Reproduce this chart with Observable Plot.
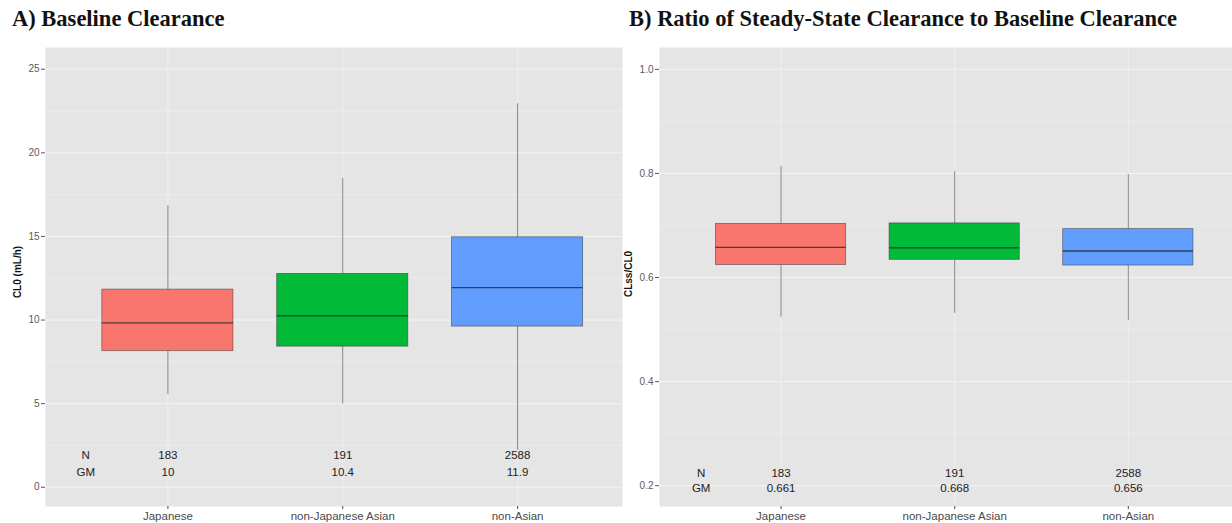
<!DOCTYPE html>
<html>
<head>
<meta charset="utf-8">
<script src="https://cdn.jsdelivr.net/npm/d3@7"></script>
<script src="https://cdn.jsdelivr.net/npm/@observablehq/plot@0.6"></script>
<style>
  html, body { margin: 0; padding: 0; background: #fff; }
  #wrap { position: relative; width: 1232px; height: 523px; overflow: hidden; font-family: "Liberation Sans", Arial, sans-serif; }
  .title { position: absolute; top: 8px; font-family: "Liberation Serif", "Times New Roman", serif; font-weight: bold; font-size: 22.5px; line-height: 1; color: #111; white-space: nowrap; }
  .ytitle { position: absolute; font-weight: bold; font-size: 10px; line-height: 1; color: #111; white-space: nowrap; transform: translate(-50%, -50%) rotate(-90deg); }
  .panel { position: absolute; top: 40px; }
</style>
</head>
<body>
<div id="wrap">
  <div class="title" style="left:12px">A) Baseline Clearance</div>
  <div class="title" style="left:629px">B) Ratio of Steady-State Clearance to Baseline Clearance</div>
  <div class="panel" id="pa" style="left:0px"></div>
  <div class="panel" id="pb" style="left:600px"></div>
  <div class="ytitle" style="left:18px;top:272px">CL0 (mL/h)</div>
  <div class="ytitle" style="left:629px;top:274px">CLss/CL0</div>
</div>
<script>
// Population groups and their counts
const groups = ["Japanese", "non-Japanese Asian", "non-Asian"];
const groupN = [183, 191, 2588];
const groupColors = ["#F8766D", "#00BA38", "#619CFF"];

// A) Baseline clearance CL0 (mL/h): whisker ends, quartiles, median, geometric mean
const cl0Low = [5.54, 4.99, 2.2];
const cl0Q1 = [8.14, 8.41, 9.61];
const cl0Median = [9.83, 10.25, 11.94];
const cl0Q3 = [11.82, 12.76, 14.95];
const cl0High = [16.85, 18.48, 22.93];
const cl0Gm = [10, 10.4, 11.9];
const cl0Ticks = [0, 5, 10, 15, 20, 25];
const cl0MinorTicks = [2.5, 7.5, 12.5, 17.5, 22.5];

// B) Ratio CLss/CL0
const ratioLow = [0.524, 0.531, 0.517];
const ratioQ1 = [0.624, 0.634, 0.623];
const ratioMedian = [0.658, 0.657, 0.651];
const ratioQ3 = [0.703, 0.704, 0.693];
const ratioHigh = [0.8135, 0.803, 0.798];
const ratioGm = [0.661, 0.668, 0.656];
const ratioTicks = [0.2, 0.4, 0.6, 0.8, 1.0];
const ratioMinorTicks = [0.3, 0.5, 0.7, 0.9];

const positions = groups.map((g, i) => i + 1);
const boxHalf = 0.375;

function boxPanel(cfg) {
  const rows = groups.map((g, i) => ({
    group: g, pos: i + 1,
    low: cfg.low[i], q1: cfg.q1[i], median: cfg.median[i], q3: cfg.q3[i], high: cfg.high[i],
    n: String(groupN[i]), gm: String(cfg.gm[i])
  }));
  const textStyle = {fontSize: 11.5, fill: "#222"};
  return Plot.plot({
    width: cfg.width,
    height: 483,
    marginTop: 7,
    marginBottom: 17,
    marginLeft: cfg.marginLeft,
    marginRight: cfg.marginRight,
    style: {background: "transparent", fontFamily: "'Liberation Sans', Arial, sans-serif", overflow: "visible"},
    x: {domain: [0.3, 3.6]},
    y: {domain: cfg.yDomain},
    color: {domain: groups, range: groupColors},
    marks: [
      Plot.frame({fill: "#E5E5E5", stroke: "none"}),
      Plot.ruleY(cfg.minors, {stroke: "#ECECEC", strokeWidth: 1}),
      Plot.ruleY(cfg.majors, {stroke: "#F4F4F4", strokeWidth: 1}),
      Plot.ruleX(positions, {stroke: "#EFEFEF", strokeWidth: 1}),
      Plot.ruleX(rows, {x: "pos", y1: "low", y2: "high", stroke: "#333", strokeOpacity: 0.6, strokeWidth: 0.9}),
      Plot.rect(rows, {x1: d => d.pos - boxHalf, x2: d => d.pos + boxHalf, y1: "q1", y2: "q3",
        fill: "group", stroke: "#333", strokeOpacity: 0.6, strokeWidth: 0.8}),
      Plot.ruleY(rows, {y: "median", x1: d => d.pos - boxHalf, x2: d => d.pos + boxHalf,
        stroke: "#222", strokeOpacity: 0.75, strokeWidth: 1.4}),
      Plot.text(rows, {x: "pos", y: cfg.nY, text: "n", ...textStyle}),
      Plot.text(rows, {x: "pos", y: cfg.gmY, text: "gm", ...textStyle}),
      Plot.text(["N"], {x: cfg.labelX, y: cfg.nY, text: d => d, ...textStyle}),
      Plot.text(["GM"], {x: cfg.labelX, y: cfg.gmY, text: d => d, ...textStyle}),
      Plot.axisY({ticks: cfg.majors, tickFormat: cfg.tickFormat, tickSize: 4, tickPadding: 2,
        fontSize: 10, color: "#5a5a5a", label: null}),
      Plot.axisX({ticks: positions, tickFormat: i => groups[i - 1], tickSize: 3, tickPadding: 2,
        fontSize: 11.5, color: "#4a4a4a", label: null})
    ]
  });
}

document.getElementById("pa").append(boxPanel({
  low: cl0Low, q1: cl0Q1, median: cl0Median, q3: cl0Q3, high: cl0High, gm: cl0Gm,
  yDomain: [-1.15, 26.3], majors: cl0Ticks, minors: cl0MinorTicks,
  tickFormat: d3.format("d"), nY: 1.9, gmY: 0.9, labelX: 0.53,
  width: 630, marginLeft: 45, marginRight: 8
}));

document.getElementById("pb").append(boxPanel({
  low: ratioLow, q1: ratioQ1, median: ratioMedian, q3: ratioQ3, high: ratioHigh, gm: ratioGm,
  yDomain: [0.16, 1.042], majors: ratioTicks, minors: ratioMinorTicks,
  tickFormat: d3.format(".1f"), nY: 0.224, gmY: 0.195, labelX: 0.54,
  width: 632, marginLeft: 59, marginRight: 0
}));
</script>
</body>
</html>
